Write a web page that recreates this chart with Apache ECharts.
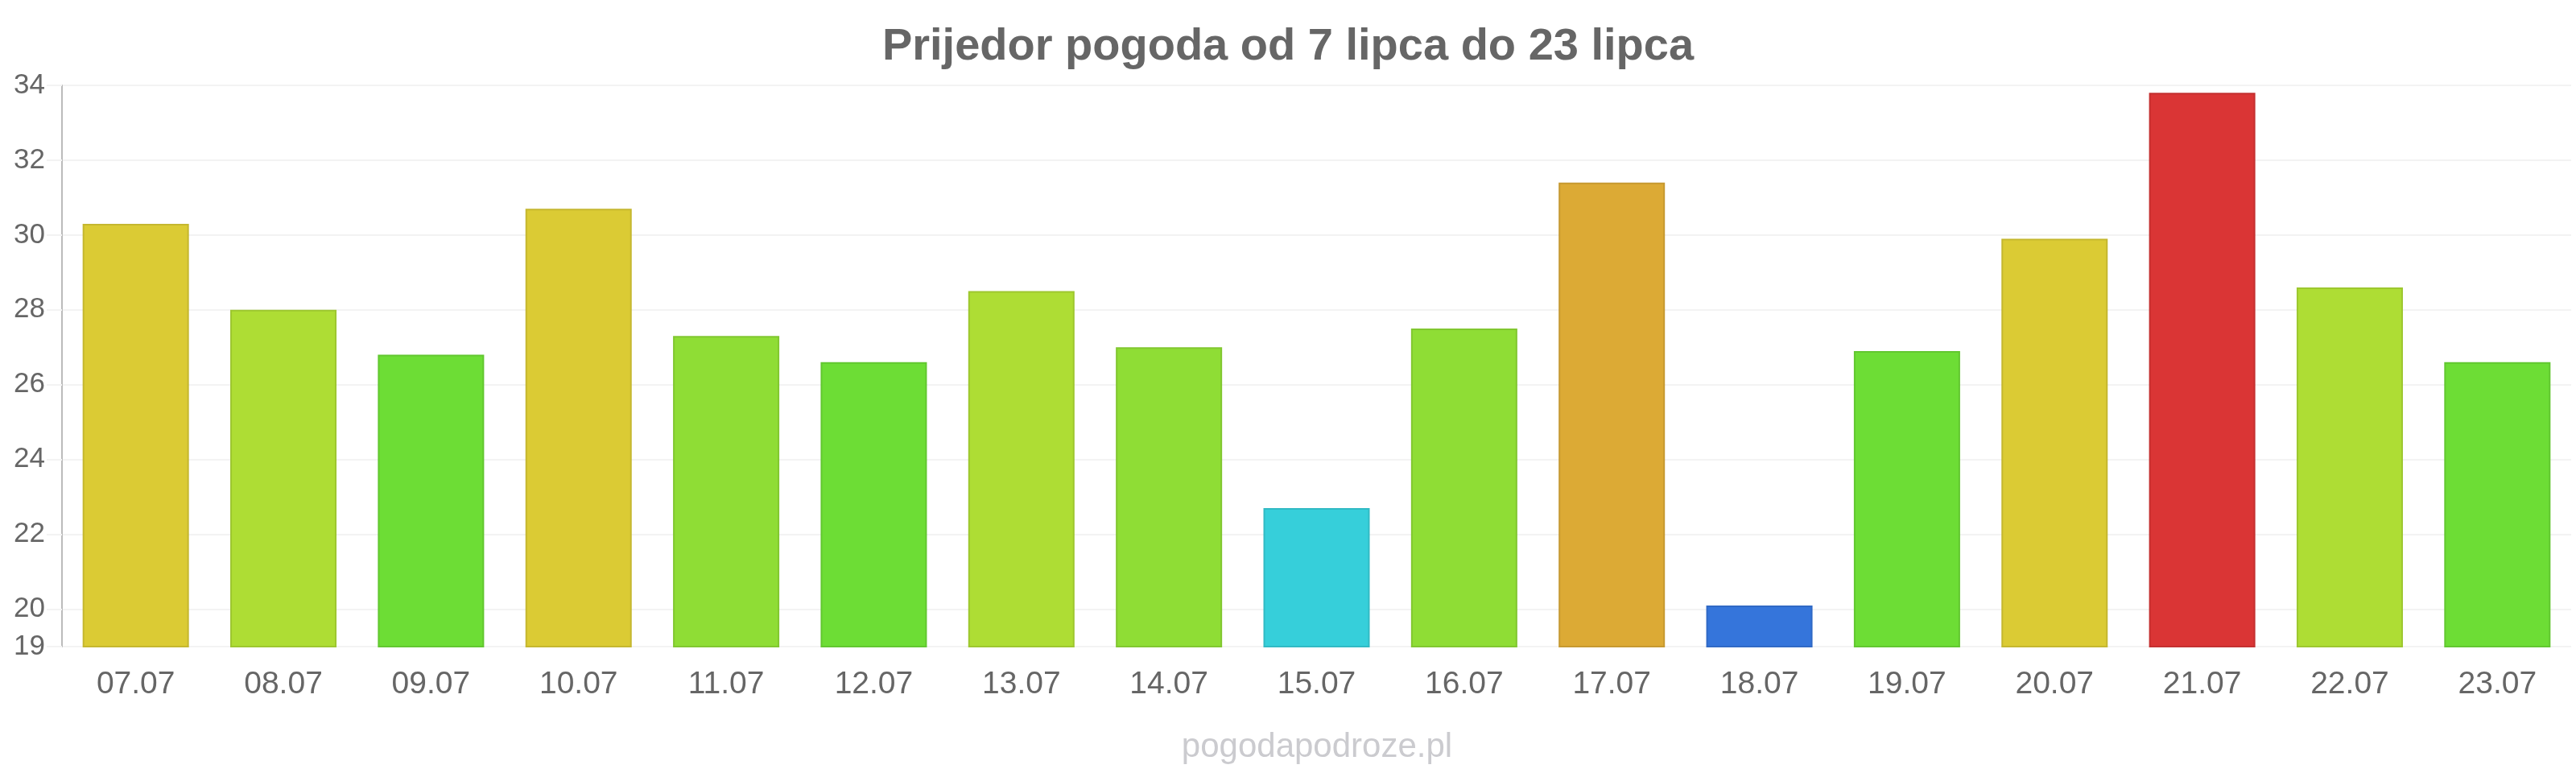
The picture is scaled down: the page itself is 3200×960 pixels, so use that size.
<!DOCTYPE html>
<html>
<head>
<meta charset="utf-8">
<script src="https://cdn.jsdelivr.net/npm/echarts@6/dist/echarts.min.js"></script>
<style>
html,body{margin:0;padding:0;background:#fff;}
#chart{width:3200px;height:960px;}
</style>
</head>
<body>
<div id="chart"></div>
<script>
const categories = ['07.07','08.07','09.07','10.07','11.07','12.07','13.07','14.07','15.07','16.07','17.07','18.07','19.07','20.07','21.07','22.07','23.07'];
const temperatures = [30.3, 28.0, 26.8, 30.7, 27.3, 26.6, 28.5, 27.0, 22.7, 27.5, 31.4, 20.1, 26.9, 29.9, 33.8, 28.6, 26.6];
const yTicks = [19, 20, 22, 24, 26, 28, 30, 32, 34];
const barColors = ['#dbcb34','#aedd34','#6ddd35','#dbcb34','#8fdd35','#6ddd35','#aedd34','#8fdd35','#36cfda','#8fdd35','#dcaa35','#3575db','#6ddd35','#dbcb34','#da3535','#aedd34','#6ddd35'];
const titleText = 'Prijedor pogoda od 7 lipca do 23 lipca';
const watermark = 'pogodapodroze.pl';

function darken(hex, f) {
  const n = parseInt(hex.slice(1), 16);
  const r = Math.round(((n >> 16) & 255) * f), g = Math.round(((n >> 8) & 255) * f), b = Math.round((n & 255) * f);
  return 'rgb(' + r + ',' + g + ',' + b + ')';
}

const chart = echarts.init(document.getElementById('chart'), null, {renderer: 'canvas'});
chart.setOption({
  animation: false,
  backgroundColor: '#ffffff',
  textStyle: {fontFamily: '"Liberation Sans", Arial, sans-serif'},
  title: {
    text: titleText,
    left: 'center',
    top: 26,
    textStyle: {fontSize: 56, fontWeight: 'bold', color: '#666666', fontFamily: '"Liberation Sans", Arial, sans-serif'}
  },
  grid: {left: 77, right: 6, top: 106, bottom: 157, containLabel: false},
  xAxis: {
    type: 'category',
    data: categories,
    axisLine: {show: false},
    axisTick: {show: false},
    axisLabel: {fontSize: 39, color: '#666666', margin: 28, fontFamily: '"Liberation Sans", Arial, sans-serif'},
    splitLine: {show: false}
  },
  yAxis: {
    type: 'value',
    min: 19,
    max: 34,
    axisLine: {show: true, lineStyle: {color: '#bbbbbb', width: 2}},
    axisTick: {show: true, length: 19, customValues: yTicks, lineStyle: {color: '#f3f3f3', width: 2}},
    axisLabel: {fontSize: 35, color: '#666666', margin: 21, customValues: yTicks, fontFamily: '"Liberation Sans", Arial, sans-serif'},
    splitLine: {show: true, lineStyle: {color: '#f3f3f3', width: 2}}
  },
  series: [{
    type: 'bar',
    barWidth: '72%',
    data: temperatures.map((v, i) => ({
      value: v,
      itemStyle: {color: barColors[i], borderColor: darken(barColors[i], 0.9), borderWidth: 2}
    }))
  }],
  graphic: [{
    type: 'text',
    x: 1636,
    y: 928,
    style: {
      text: watermark,
      fontSize: 42,
      fill: '#cbcbcf',
      align: 'center',
      verticalAlign: 'middle',
      fontFamily: '"Liberation Sans", Arial, sans-serif'
    }
  }]
});
</script>
</body>
</html>
